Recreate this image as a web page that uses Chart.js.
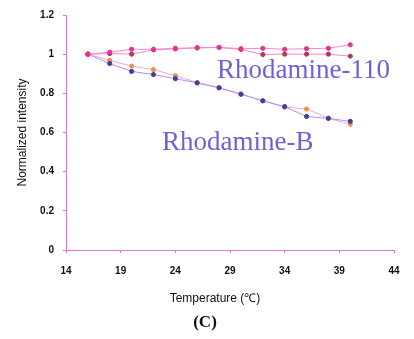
<!DOCTYPE html>
<html>
<head>
<meta charset="utf-8">
<script src="https://cdn.jsdelivr.net/npm/chart.js@4"></script>
<style>
  html, body { margin: 0; padding: 0; background: #fff; }
  #chart { display: block; }
</style>
</head>
<body>
<canvas id="chart" width="414" height="339"></canvas>
<script>
// temperatures (deg C)
const temps = [16, 18, 20, 22, 24, 26, 28, 30, 32, 34, 36, 38, 40];

// Rhodamine-110, two runs
const rh110A = [1.0, 1.01, 1.025, 1.025, 1.03, 1.033, 1.035, 1.028, 1.03, 1.025, 1.028, 1.03, 1.048];
const rh110B = [1.0, 1.003, 1.0, 1.022, 1.027, 1.032, 1.034, 1.024, 0.998, 1.0, 1.0, 1.0, 0.99];

// Rhodamine-B, two runs
const rhBBlue = [1.0, 0.952, 0.912, 0.896, 0.875, 0.853, 0.828, 0.795, 0.762, 0.732, 0.682, 0.672, 0.657];
const rhBOrange = [1.0, 0.968, 0.939, 0.921, 0.89, 0.855, 0.83, 0.797, 0.762, 0.73, 0.72, 0.673, 0.642];

const xTicks = [14, 19, 24, 29, 34, 39, 44];

const axisColor = '#d27ad8';
const tickFont = { family: 'Liberation Sans', size: 10, weight: 'bold' };

function pts(values) {
    return temps.map((t, i) => ({ x: t, y: values[i] }));
}

function series(label, values, pointColor, lineColor) {
    return {
        label: label,
        data: pts(values),
        borderColor: lineColor,
        backgroundColor: pointColor,
        pointBackgroundColor: pointColor,
        pointBorderColor: pointColor,
        borderWidth: 1,
        pointRadius: 2.1,
        pointHoverRadius: 2.1,
        tension: 0
    };
}

// free text on the figure: curve names, x title and panel letter
const textPlugin = {
    id: 'figureText',
    afterDraw(chart) {
        const ctx = chart.ctx;
        ctx.save();
        ctx.fillStyle = '#6f62d6';
        ctx.font = '27px "Liberation Serif"';
        ctx.textAlign = 'left';
        ctx.textBaseline = 'alphabetic';
        ctx.fillText('Rhodamine-110', 217, 78);
        ctx.fillText('Rhodamine-B', 162, 150);

        ctx.fillStyle = '#111';
        ctx.textAlign = 'center';
        ctx.textBaseline = 'middle';
        ctx.font = '12px "Liberation Sans"';
        ctx.fillText('Temperature (\u2103)', 215, 299);
        ctx.font = 'bold 17px "Liberation Serif"';
        ctx.fillText('(C)', 205, 323);
        ctx.restore();
    }
};

new Chart(document.getElementById('chart'), {
    type: 'line',
    data: {
        datasets: [
            series('Rhodamine-110 a', rh110A, '#ec2f93', '#f58ac8'),
            series('Rhodamine-110 b', rh110B, '#b23a52', '#f58ac8'),
            series('Rhodamine-B a', rhBBlue, '#3b3f9e', '#bf8aec'),
            series('Rhodamine-B b', rhBOrange, '#f2913a', '#eaa6de')
        ]
    },
    options: {
        responsive: false,
        animation: false,
        layout: { padding: { top: 12, right: 20, bottom: 27, left: 0 } },
        plugins: {
            legend: { display: false },
            tooltip: { enabled: false }
        },
        scales: {
            x: {
                type: 'linear',
                min: 14,
                max: 44,
                afterBuildTicks(scale) {
                    scale.ticks = xTicks.map(v => ({ value: v }));
                },
                afterFit(scale) { scale.height = 62; },
                border: { display: true, color: axisColor, width: 1 },
                grid: { drawOnChartArea: false, drawTicks: true, tickLength: 3, color: axisColor },
                ticks: { color: '#111', font: tickFont, padding: 12, maxRotation: 0 }
            },
            y: {
                min: 0,
                max: 1.2,
                ticks: {
                    stepSize: 0.2,
                    color: '#111',
                    font: tickFont,
                    padding: 9,
                    callback: v => String(Number(v.toFixed(1)))
                },
                afterFit(scale) { scale.width = 66; },
                border: { display: true, color: axisColor, width: 1 },
                grid: { drawOnChartArea: false, drawTicks: true, tickLength: 3, color: axisColor },
                title: {
                    display: true,
                    text: 'Normalized intensity',
                    color: '#111',
                    font: { family: 'Liberation Sans', size: 12 },
                    padding: { top: 15, bottom: 0 }
                }
            }
        }
    },
    plugins: [textPlugin]
});
</script>
</body>
</html>
